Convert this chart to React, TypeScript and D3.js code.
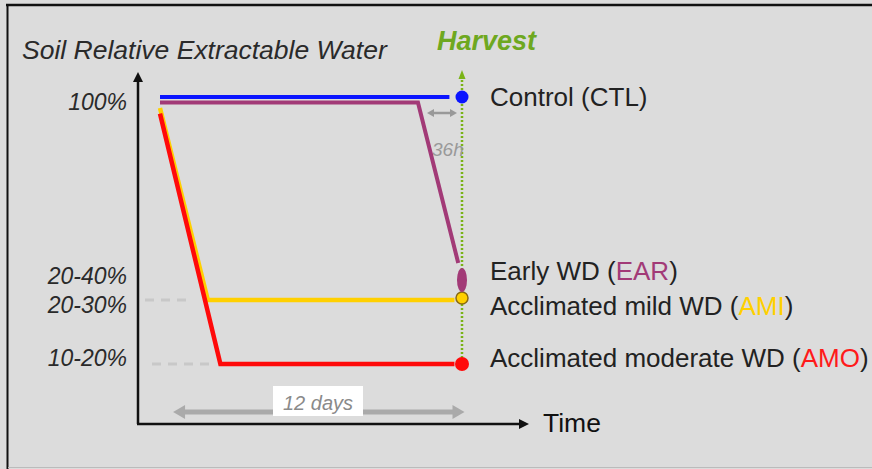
import * as d3 from "d3";

// schematic: time in days, soil relative extractable water in %
const ctlDays = [0, 11.5];
const ctlSrew = [100, 100];
const earDays = [0, 10.25, 11.85];
const earSrew = [98, 98, 40];
const amiDays = [0, 1.9, 11.7];
const amiSrew = [96, 25, 25];
const amoDays = [0, 2.4, 11.7];
const amoSrew = [94, 15, 15];

const harvestDay = 12;
const harvestSrew = { CTL: 100, EAR: 30, AMI: 25, AMO: 15 };

const tickValues = [98.3, 32.5, 24.3, 16];
const tickLabels = ["100%", "20-40%", "20-30%", "10-20%"];

const legendValues = [100, 35.5, 24.1, 16];
const legendNames = ["Control", "Early WD", "Acclimated mild WD", "Acclimated moderate WD"];
const legendCodes = ["CTL", "EAR", "AMI", "AMO"];

const colors = {
  CTL: "#0a14ff",
  EAR: "#a23a77",
  AMI: "#ffd000",
  AMO: "#ff0a0a",
};
const codeColors = ["#222", "#a23a77", "#ffd000", "#ff1a1a"];

const font = "'Liberation Sans', Arial, sans-serif";

export default function App() {
  const width = 872;
  const height = 469;

  const x = d3.scaleLinear().domain([0, 12]).range([160, 462]);
  // schematic, non-linear axis
  const y = d3
    .scaleLinear()
    .domain([0, 15, 25, 30, 40, 100])
    .range([424, 364, 300, 280, 263, 97]);

  const line = d3
    .line<[number, number]>()
    .x((d) => x(d[0]))
    .y((d) => y(d[1]));

  const toPts = (a: number[], b: number[]) => a.map((d, i) => [d, b[i]] as [number, number]);

  const axisX = 138;
  const axisY = 424;
  const hx = x(harvestDay);

  return (
    <svg
      width={width}
      height={height}
      style={{ position: "absolute", left: 0, top: 0, background: "#dcdcdc" }}
      fontFamily={font}
    >
      <rect x={0} y={0} width={width} height={height} fill="#dcdcdc" />
      {/* frame */}
      <line x1={6} x2={width} y1={5} y2={5} stroke="#111" strokeWidth={2.5} />
      <line x1={7.5} x2={7.5} y1={5} y2={469} stroke="#111" strokeWidth={2} />
      <line x1={8} x2={width} y1={467.5} y2={467.5} stroke="#bbb" strokeWidth={1} />

      {/* title */}
      <text x={22} y={59} fontSize={26.5} fontStyle="italic" fill="#2a2a2a">
        Soil Relative Extractable Water
      </text>

      {/* harvest */}
      <text x={437} y={50} fontSize={27} fontStyle="italic" fontWeight="bold" fill="#6ea820">
        Harvest
      </text>
      <line x1={hx} x2={hx} y1={76} y2={y(harvestSrew.AMO)} stroke="#7ab317" strokeWidth={2.5} strokeDasharray="2,2" />
      <path d={`M${hx - 3.5},${79} L${hx},${70} L${hx + 3.5},${79} Z`} fill="#7ab317" />

      {/* axes */}
      <line x1={axisX} x2={axisX} y1={axisY} y2={80} stroke="#111" strokeWidth={2.5} />
      <path d={`M${axisX - 5},${82} L${axisX},${72} L${axisX + 5},${82} Z`} fill="#111" />
      <line x1={axisX - 1} x2={522} y1={axisY} y2={axisY} stroke="#111" strokeWidth={2.5} />
      <path d={`M${519},${axisY - 5} L${529},${axisY} L${519},${axisY + 5} Z`} fill="#111" />
      <text x={543} y={432} fontSize={26.5} fill="#111">
        Time
      </text>

      {/* y tick labels */}
      {tickLabels.map((t, i) => (
        <text
          key={t}
          x={127}
          y={y(tickValues[i])}
          dy="0.36em"
          textAnchor="end"
          fontSize={23}
          fontStyle="italic"
          fill="#2a2a2a"
        >
          {t}
        </text>
      ))}

      {/* reference dashes */}
      <line x1={145} x2={192} y1={y(25)} y2={y(25)} stroke="#c8c8c8" strokeWidth={3} strokeDasharray="9,7" />
      <line x1={152} x2={216} y1={y(15)} y2={y(15)} stroke="#c8c8c8" strokeWidth={3} strokeDasharray="9,7" />

      {/* 12 days */}
      <line x1={x(0.75)} x2={x(11.85)} y1={412} y2={412} stroke="#aaa" strokeWidth={5} />
      <path d={`M${x(0.52)},412 L${x(0.52) + 12},405 L${x(0.52) + 12},419 Z`} fill="#aaa" />
      <path d={`M${x(12.1)},412 L${x(12.1) - 12},405 L${x(12.1) - 12},419 Z`} fill="#aaa" />
      <rect x={273} y={386} width={90} height={30} fill="#fff" />
      <text x={318} y={410} textAnchor="middle" fontSize={20} fontStyle="italic" fill="#8a8a8a">
        12 days
      </text>

      {/* 36h */}
      <line x1={432} x2={452} y1={113} y2={113} stroke="#999" strokeWidth={2.5} />
      <path d="M427,113 L434,109 L434,117 Z" fill="#999" />
      <path d="M457,113 L450,109 L450,117 Z" fill="#999" />
      <text x={432} y={156} fontSize={19} fontStyle="italic" fill="#999">
        36h
      </text>

      {/* series */}
      <path d={line(toPts(ctlDays, ctlSrew)) ?? ""} fill="none" stroke={colors.CTL} strokeWidth={4} />
      <path d={line(toPts(earDays, earSrew)) ?? ""} fill="none" stroke={colors.EAR} strokeWidth={4} />
      <path d={line(toPts(amiDays, amiSrew)) ?? ""} fill="none" stroke={colors.AMI} strokeWidth={4.5} />
      <path d={line(toPts(amoDays, amoSrew)) ?? ""} fill="none" stroke={colors.AMO} strokeWidth={4.5} />

      {/* harvest markers */}
      <circle cx={hx} cy={y(harvestSrew.CTL)} r={6.5} fill={colors.CTL} />
      <circle cx={hx} cy={y(harvestSrew.AMI) - 2} r={6} fill={colors.AMI} stroke="#8a6a10" strokeWidth={1.5} />
      <ellipse cx={hx} cy={y(harvestSrew.EAR)} rx={5} ry={12} fill={colors.EAR} />
      <circle cx={hx} cy={y(harvestSrew.AMO)} r={7} fill={colors.AMO} />

      {/* legend */}
      {legendNames.map((n, i) => (
        <text key={n} x={490} y={y(legendValues[i])} dy="0.36em" fontSize={26} fill="#222">
          {n} (<tspan fill={codeColors[i]}>{legendCodes[i]}</tspan>)
        </text>
      ))}
    </svg>
  );
}
